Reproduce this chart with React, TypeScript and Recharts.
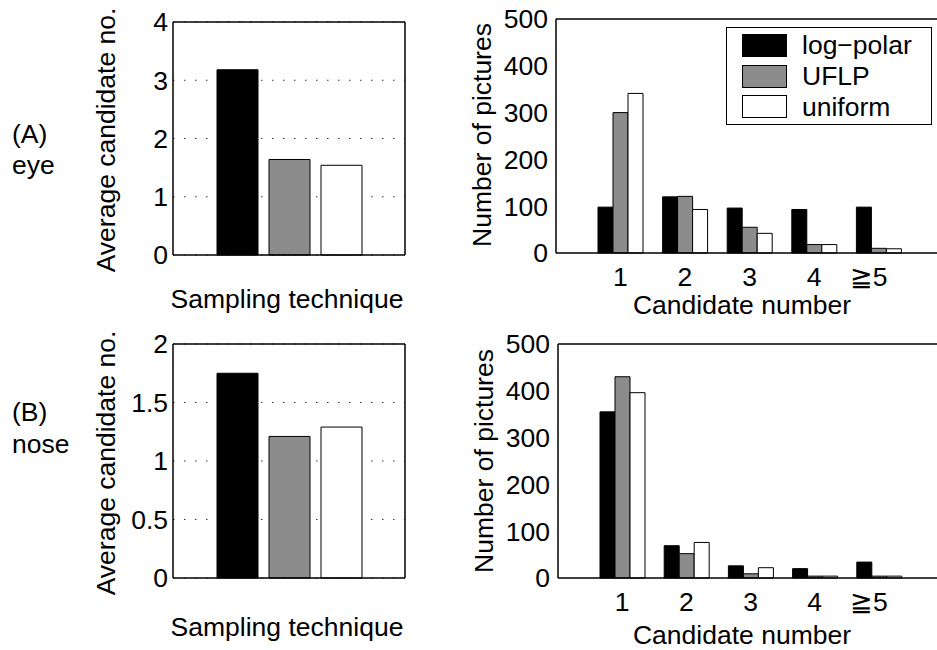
import React from 'react';
import { BarChart, Bar, XAxis, YAxis, CartesianGrid, Legend, Label } from 'recharts';

const FONT = '"Liberation Sans", Arial, Helvetica, sans-serif';
const FS = 26.5;

// Series definitions
const seriesNames = ['log\u2212polar', 'UFLP', 'uniform'];
const seriesKeys = ['logPolar', 'uflp', 'uniform'];
const seriesFills = ['#000000', '#8c8c8c', '#ffffff'];

// Left panels: average candidate number per sampling technique
const avgCategory = ['Sampling technique'];
const eyeAverage = [3.18, 1.64, 1.54];
const noseAverage = [1.75, 1.21, 1.29];
const eyeAvgTicks = [0, 1, 2, 3, 4];
const noseAvgTicks = [0, 0.5, 1, 1.5, 2];

// Right panels: number of pictures per candidate number
const candidateNumbers = ['1', '2', '3', '4', '\u22675'];
const eyeLogPolar = [98, 120, 96, 93, 98];
const eyeUFLP = [300, 121, 55, 18, 10];
const eyeUniform = [341, 93, 42, 18, 9];
const noseLogPolar = [355, 69, 26, 20, 34];
const noseUFLP = [430, 52, 9, 4, 4];
const noseUniform = [396, 76, 22, 4, 4];
const countTicks = [0, 100, 200, 300, 400, 500];

const avgData = (vals: number[]) =>
  avgCategory.map((name) => {
    const row: any = { name };
    seriesKeys.forEach((k, i) => (row[k] = vals[i]));
    return row;
  });

const countData = (a: number[], b: number[], c: number[]) =>
  candidateNumbers.map((name, i) => ({ name, logPolar: a[i], uflp: b[i], uniform: c[i] }));

const tickStyle = { fill: '#000', fontSize: FS, fontFamily: FONT };

const hText = (text: string, x: number, y: number) => () => (
  <text x={x} y={y} textAnchor="middle" fontFamily={FONT} fontSize={FS} fill="#000">
    {text}
  </text>
);
const vText = (text: string, x: number, y: number) => () => (
  <text
    x={x}
    y={y}
    transform={`rotate(-90 ${x} ${y})`}
    textAnchor="middle"
    fontFamily={FONT}
    fontSize={FS}
    fill="#000"
  >
    {text}
  </text>
);

const CountTick = (props: any) => {
  const { x, y, payload } = props;
  const v = String(payload.value);
  const dx = v.startsWith('\u2267') ? -10 : 0;
  return (
    <text x={x + dx} y={y} dy="0.71em" textAnchor="middle" fontFamily={FONT} fontSize={FS} fill="#000">
      {v}
    </text>
  );
};

const LegendBox = () => (
  <div
    style={{
      boxSizing: 'border-box',
      width: 206,
      border: '1.5px solid #000',
      background: '#fff',
      padding: '2px 8px 2px 15px',
      fontFamily: FONT,
      fontSize: FS,
      color: '#000',
    }}
  >
    {seriesNames.map((n, i) => (
      <div key={n} style={{ display: 'flex', alignItems: 'center', height: 30.7 }}>
        <span
          style={{
            display: 'inline-block',
            boxSizing: 'border-box',
            width: 45,
            height: 23,
            background: seriesFills[i],
            border: '1px solid #000',
            marginRight: 15,
            flex: 'none',
          }}
        />
        <span style={{ lineHeight: '30px', whiteSpace: 'nowrap' }}>{n}</span>
      </div>
    ))}
  </div>
);

type AvgProps = {
  values: number[];
  ticks: number[];
  height: number;
  marginTop: number;
  marginBottom: number;
  xLabelY: number;
  yLabelY: number;
};

const AvgPanel = ({ values, ticks, height, marginTop, marginBottom, xLabelY, yLabelY }: AvgProps) => {
  const max = ticks[ticks.length - 1];
  return (
    <BarChart
      width={420}
      height={height}
      data={avgData(values)}
      margin={{ top: marginTop, right: 14, bottom: marginBottom, left: 113 }}
      barSize={41}
      barGap={11}
    >
      <CartesianGrid horizontal vertical={false} stroke="#333" strokeDasharray="1.5 9.5" />
      <XAxis dataKey="name" height={1} tick={false} tickLine={false} axisLine stroke="#000" strokeWidth={1.5}>
        <Label content={hText('Sampling technique', 287, xLabelY)} />
      </XAxis>
      <XAxis
        xAxisId="top"
        dataKey="name"
        orientation="top"
        height={1}
        mirror
        tick={false}
        tickSize={5}
        tickLine
        axisLine
        stroke="#000"
        strokeWidth={1.5}
      />
      <YAxis
        type="number"
        domain={[0, max]}
        ticks={ticks}
        width={60}
        tickLine={false}
        tickSize={0}
        tickMargin={5}
        axisLine
        stroke="#000"
        strokeWidth={1.5}
        tick={tickStyle}
      >
        <Label content={vText('Average candidate no.', 115, yLabelY)} />
      </YAxis>
      <YAxis
        yAxisId="r"
        orientation="right"
        type="number"
        domain={[0, max]}
        width={1}
        tick={false}
        tickLine={false}
        axisLine
        stroke="#000"
        strokeWidth={1.5}
      />
      {seriesKeys.map((k, i) => (
        <Bar
          key={k}
          dataKey={k}
          name={seriesNames[i]}
          fill={seriesFills[i]}
          stroke="#000"
          strokeWidth={1}
          isAnimationActive={false}
        />
      ))}
    </BarChart>
  );
};

type CountProps = {
  a: number[];
  b: number[];
  c: number[];
  height: number;
  marginTop: number;
  marginBottom: number;
  marginLeft: number;
  xLabelY: number;
  yLabelX: number;
  yLabelY: number;
  legend?: boolean;
};

const CountPanel = ({ a, b, c, height, marginTop, marginBottom, marginLeft, xLabelY, yLabelX, yLabelY, legend }: CountProps) => (
  <BarChart
    width={530}
    height={height}
    data={countData(a, b, c)}
    margin={{ top: marginTop, right: 7, bottom: marginBottom, left: marginLeft }}
    barCategoryGap={10}
    barGap={0}
  >
    <XAxis
      dataKey="name"
      height={40}
      padding={{ left: 32, right: 32 }}
      tickLine={false}
      tickSize={0}
      tickMargin={14}
      axisLine
      stroke="#000"
      strokeWidth={1.5}
      tick={<CountTick />}
      interval={0}
    >
      <Label content={hText('Candidate number', 322, xLabelY)} />
    </XAxis>
    <XAxis
      xAxisId="top"
      dataKey="name"
      orientation="top"
      height={1}
      mirror
      padding={{ left: 32, right: 32 }}
      tick={false}
      tickSize={5}
      tickLine
      axisLine
      stroke="#000"
      strokeWidth={1.5}
      interval={0}
    />
    <YAxis
      type="number"
      domain={[0, 500]}
      ticks={countTicks}
      width={70}
      tickLine={false}
      tickSize={0}
      tickMargin={8}
      axisLine
      stroke="#000"
      strokeWidth={1.5}
      tick={tickStyle}
    >
      <Label content={vText('Number of pictures', yLabelX, yLabelY)} />
    </YAxis>
    {legend && (
      <Legend
        layout="vertical"
        align="center"
        verticalAlign="middle"
        content={LegendBox}
        wrapperStyle={{ left: 306, top: 27, width: 206, height: 98 }}
      />
    )}
    {seriesKeys.map((k, i) => (
      <Bar
        key={k}
        dataKey={k}
        name={seriesNames[i]}
        fill={seriesFills[i]}
        stroke="#000"
        strokeWidth={1}
        isAnimationActive={false}
      />
    ))}
  </BarChart>
);

export default function App() {
  return (
    <div
      style={{
        position: 'fixed',
        left: 0,
        top: 0,
        width: 937,
        height: 650,
        overflow: 'hidden',
        background: '#fff',
        fontFamily: FONT,
      }}
    >
      <div style={{ position: 'absolute', left: 0, top: 0 }}>
        <AvgPanel values={eyeAverage} ticks={eyeAvgTicks} height={320} marginTop={22} marginBottom={64} xLabelY={308} yLabelY={140} />
      </div>
      <div style={{ position: 'absolute', left: 0, top: 320 }}>
        <AvgPanel values={noseAverage} ticks={noseAvgTicks} height={330} marginTop={24} marginBottom={71} xLabelY={316} yLabelY={143} />
      </div>
      <div style={{ position: 'absolute', left: 420, top: 0 }}>
        <CountPanel
          a={eyeLogPolar}
          b={eyeUFLP}
          c={eyeUniform}
          height={320}
          marginTop={19}
          marginBottom={27}
          marginLeft={66}
          xLabelY={314}
          yLabelX={71}
          yLabelY={135}
          legend
        />
      </div>
      <div style={{ position: 'absolute', left: 420, top: 320 }}>
        <CountPanel
          a={noseLogPolar}
          b={noseUFLP}
          c={noseUniform}
          height={330}
          marginTop={24}
          marginBottom={32}
          marginLeft={68}
          xLabelY={324}
          yLabelX={73}
          yLabelY={141}
        />
      </div>
      <svg width={937} height={650} style={{ position: 'absolute', left: 0, top: 0, pointerEvents: 'none' }}>
        <text x={12} y={143} fontFamily={FONT} fontSize={FS} fill="#000">(A)</text>
        <text x={12} y={174} fontFamily={FONT} fontSize={FS} fill="#000">eye</text>
        <text x={12} y={421} fontFamily={FONT} fontSize={FS} fill="#000">(B)</text>
        <text x={12} y={453} fontFamily={FONT} fontSize={FS} fill="#000">nose</text>
      </svg>
    </div>
  );
}
